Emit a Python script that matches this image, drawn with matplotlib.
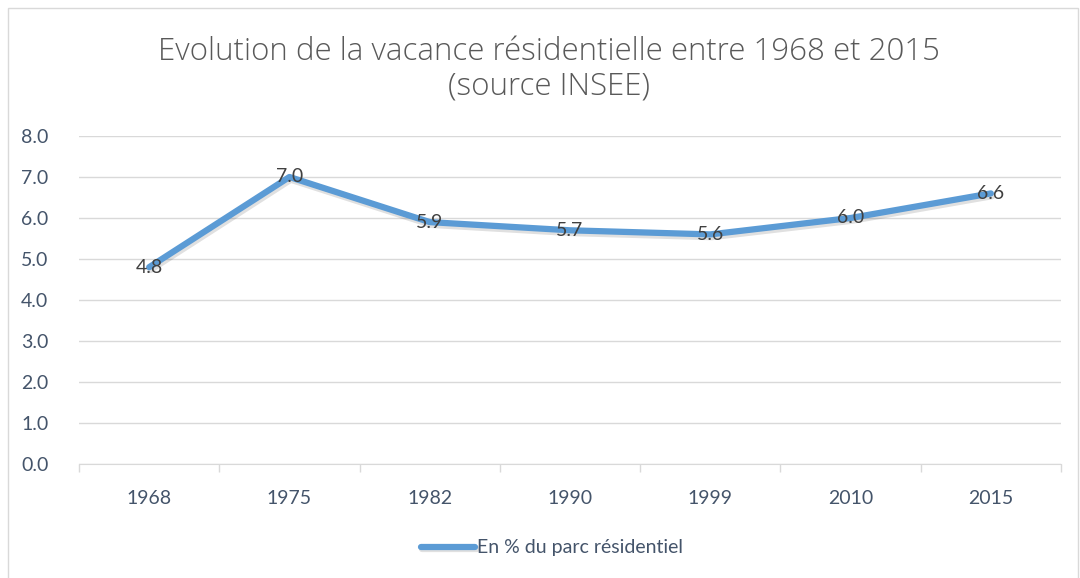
import matplotlib
matplotlib.use("Agg")
import matplotlib.pyplot as plt
import matplotlib.patheffects as pe
from matplotlib.patches import Rectangle

# data
years = ["1968", "1975", "1982", "1990", "1999", "2010", "2015"]
vacance = [4.8, 7.0, 5.9, 5.7, 5.6, 6.0, 6.6]
label = "En % du parc résidentiel"

line_color = "#5B9BD5"
text_color = "#44546A"
grid_color = "#D9D9D9"

plt.rcParams["font.family"] = ["Lato", "DejaVu Sans"]

fig = plt.figure(figsize=(10.8, 5.78), dpi=100)
ax = fig.add_axes([79 / 1080, 1 - 464 / 578, 982 / 1080, 328 / 578])

# chart frame
fig.patches.append(Rectangle((8 / 1080, -0.1), 1070 / 1080, 1.1 - 8 / 578,
                             transform=fig.transFigure, fill=False,
                             edgecolor="#D9D9D9", linewidth=1))

x = list(range(len(years)))
ax.plot(x, vacance, color=line_color, linewidth=4.5, solid_capstyle="round",
        label=label,
        path_effects=[pe.SimpleLineShadow(offset=(1.0, -2.0), alpha=0.12, shadow_color="black"),
                      pe.Normal()])

for xi, v in zip(x, vacance):
    ax.text(xi, v, f"{v:.1f}", ha="center", va="center", fontsize=14,
            color="#404040")

ax.set_xlim(-0.5, len(years) - 0.5)
ax.set_ylim(0, 8)
ax.set_yticks([i for i in range(9)])
ax.set_yticklabels([f"{i:.1f}" for i in range(9)])
ax.set_xticks(x)
ax.set_xticklabels(years)
ax.set_xticks([i - 0.5 for i in range(len(years) + 1)], minor=True)

ax.tick_params(axis="y", length=0, pad=22, labelsize=14, labelcolor=text_color)
ax.tick_params(axis="x", which="major", length=0, pad=19, labelsize=14, labelcolor=text_color)
ax.tick_params(axis="x", which="minor", length=6, color=grid_color, width=1)

ax.grid(axis="y", color=grid_color, linewidth=1)
ax.set_axisbelow(True)
for side in ["top", "right", "left"]:
    ax.spines[side].set_visible(False)
ax.spines["bottom"].set_color(grid_color)

fig.text(549 / 1080, 1 - 69 / 578,
         "Evolution de la vacance résidentielle entre 1968 et 2015\n(source INSEE)",
         ha="center", va="center", fontsize=22.5, color="#595959",
         family=["Open Sans", "DejaVu Sans"], fontweight="light", linespacing=1.1)

fig.legend(loc="center", bbox_to_anchor=(552 / 1080, 1 - 548 / 578), frameon=False,
           fontsize=14, labelcolor=text_color, handlelength=2.8, handletextpad=0.1)

fig.savefig("out.png", dpi=100)
